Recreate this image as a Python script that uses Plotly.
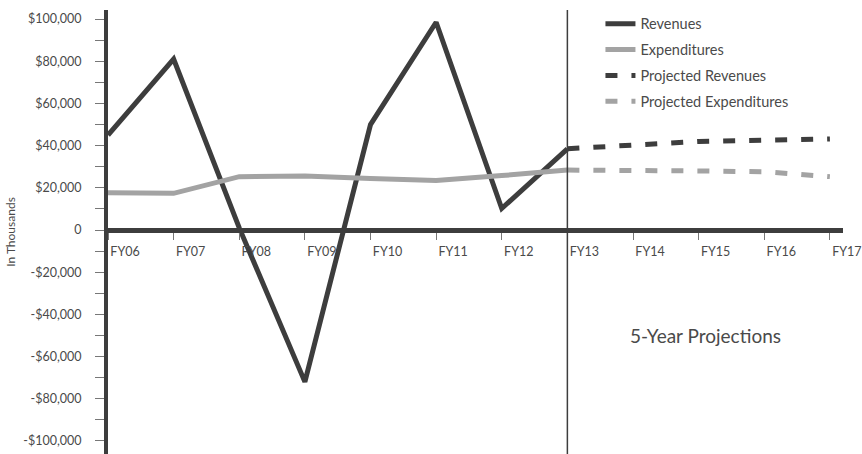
import plotly.graph_objects as go

# Fiscal-year categories
years = ["FY06", "FY07", "FY08", "FY09", "FY10", "FY11", "FY12",
         "FY13", "FY14", "FY15", "FY16", "FY17"]
actual_years = years[:8]
projected_years = years[7:]

# Values in thousands of dollars
revenues = [45000, 81000, 1000, -72000, 50000, 98500, 10200, 38500]
expenditures = [17600, 17400, 25300, 25600, 24400, 23500, 25800, 28400]
projected_revenues = [38500, 40000, 42000, 42600, 43200]
projected_expenditures = [28400, 28400, 28000, 27600, 25300]

# Y-axis tick labels
y_tickvals = [100000, 80000, 60000, 40000, 20000, 0,
              -20000, -40000, -60000, -80000, -100000]
y_ticktext = ["$100,000", "$80,000", "$60,000", "$40,000", "$20,000", "0",
              "-$20,000", "-$40,000", "-$60,000", "-$80,000", "-$100,000"]

DARK = "#3d3d3d"
LIGHT = "#a3a3a3"
TEXT = "#4a4a4a"
FONT = "Lato, 'Noto Sans', sans-serif"

y_min, y_max = -106200, 104300

fig = go.Figure()
fig.add_trace(go.Scatter(x=actual_years, y=revenues, name="Revenues",
                         mode="lines", legendgroup="a",
                         line=dict(color=DARK, width=5)))
fig.add_trace(go.Scatter(x=actual_years, y=expenditures, name="Expenditures",
                         mode="lines", legendgroup="b",
                         line=dict(color=LIGHT, width=5)))
fig.add_trace(go.Scatter(x=projected_years, y=projected_revenues,
                         name="Projected Revenues", mode="lines", legendgroup="c",
                         line=dict(color=DARK, width=5, dash="12px,14px")))
fig.add_trace(go.Scatter(x=projected_years, y=projected_expenditures,
                         name="Projected Expenditures", mode="lines", legendgroup="d",
                         line=dict(color=LIGHT, width=5, dash="12px,14px")))

# Divider between actual and projected years
fig.add_shape(type="line", xref="x", yref="paper", x0=7, x1=7, y0=0, y1=1,
              line=dict(color=DARK, width=1.5))

fig.add_annotation(x=9.1, y=-50000, xref="x", yref="y", text="5-Year Projections",
                   showarrow=False, font=dict(size=19, color=TEXT, family=FONT))

fig.update_layout(
    width=862, height=454,
    margin=dict(l=108, r=17, t=10, b=0),
    paper_bgcolor="white", plot_bgcolor="white",
    font=dict(family=FONT, color=TEXT),
    showlegend=True,
    legend=dict(x=0.67, y=1.005, xanchor="left", yanchor="top",
                font=dict(size=14.5, color=TEXT, family=FONT),
                bgcolor="rgba(0,0,0,0)", tracegroupgap=4, itemwidth=30),
)

fig.update_xaxes(
    type="category", categoryorder="array", categoryarray=years,
    range=[0, 11.2],
    anchor="free", position=(0 - y_min) / (y_max - y_min),
    showline=True, linewidth=5, linecolor=DARK,
    showgrid=False, zeroline=False,
    ticks="outside", ticklen=7, tickwidth=1, tickcolor="#777",
    ticklabelshift=17, ticklabelstandoff=1,
    tickfont=dict(size=12.5, color=TEXT, family=FONT),
)

fig.update_yaxes(
    range=[y_min, y_max],
    tickvals=y_tickvals, ticktext=y_ticktext,
    showline=True, linewidth=4, linecolor=DARK,
    showgrid=False, zeroline=False,
    ticks="outside", ticklen=9, tickwidth=1, tickcolor="#777",
    minor=dict(dtick=10000, tick0=0, ticks="outside", ticklen=9,
               tickwidth=1, tickcolor="#777", showgrid=False),
    ticklabelstandoff=11,
    tickfont=dict(size=12.5, color=TEXT, family=FONT),
    title=dict(text="In Thousands", standoff=6,
               font=dict(size=12, color=TEXT, family=FONT)),
)

fig.write_html("out.html")
